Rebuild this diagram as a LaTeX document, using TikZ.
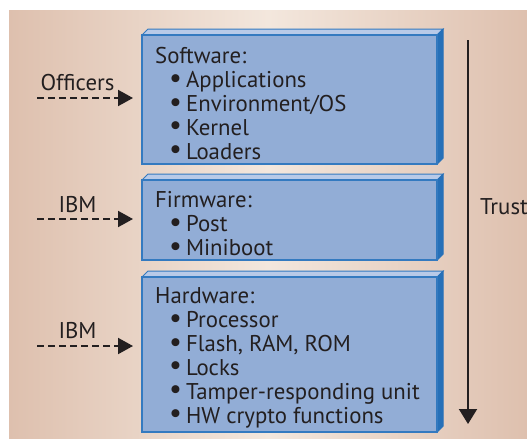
\documentclass[tikz,border=0pt]{standalone}
\usepackage{fontspec}
\setmainfont{PT Sans}
\usetikzlibrary{arrows.meta,calc}
\definecolor{bgedge}{RGB}{222,192,174}
\definecolor{bgmid}{RGB}{243,231,221}
\definecolor{frontblue}{RGB}{146,173,214}
\definecolor{topblue}{RGB}{184,202,232}
\definecolor{sideblue}{RGB}{38,112,184}
\definecolor{edgeblue}{RGB}{52,122,192}
\definecolor{ink}{RGB}{35,31,32}
\tikzset{
  frontbox/.style={draw=edgeblue, line width=1.2pt, fill=frontblue, minimum width=294pt, inner sep=0pt, anchor=north west},
  topface/.style={draw=edgeblue, line width=1pt, fill=topblue},
  sideface/.style={draw=sideblue, line width=0.8pt, fill=sideblue},
  boxtext/.style={anchor=north west, inner sep=0pt, align=left, text=ink, font=\fontsize{22.8}{23.9}\selectfont},
  lbl/.style={anchor=base, inner sep=0pt, text=ink, font=\fontsize{22.8}{24}\selectfont},
  feed/.style={draw=ink, line width=2pt, dash pattern=on 7pt off 4pt, -{Triangle[width=16pt,length=15pt]}, shorten >=9pt},
  trustline/.style={draw=ink, line width=2pt, -{Triangle[width=18pt,length=15pt]}}
}
\newcommand\slabfaces[1]{%
  \fill[topface] (#1.north west) -- ++(6,-6) -- ($(#1.north east)+(6,-6)$) -- (#1.north east) -- cycle;
  \fill[sideface] (#1.north east) -- ++(6,-6) -- ($(#1.south east)+(6,-6)$) -- (#1.south east) -- cycle;
}
\newcommand\bul{\hspace*{14pt}\raisebox{0.5pt}{\scalebox{1.25}{•}}\hspace{4pt}}
\newcommand\firstline{\rule{0pt}{20.5pt}}
\begin{document}
\begin{tikzpicture}[x=1pt,y=-1pt]
\useasboundingbox (0,0) rectangle (527,439);
\shade[left color=bgedge, right color=bgedge, middle color=bgmid] (9,10) rectangle (527,438);

% boxes
\node[frontbox, minimum height=128pt] (sw) at (142,35) {};
\node[frontbox, minimum height=79pt] (fw) at (142,180) {};
\node[frontbox, minimum height=154pt] (hw) at (142,277) {};
\slabfaces{sw}
\slabfaces{fw}
\slabfaces{hw}
\draw[draw=edgeblue, line width=1.2pt] (sw.north west) rectangle (sw.south east);
\draw[draw=edgeblue, line width=1.2pt] (fw.north west) rectangle (fw.south east);
\draw[draw=edgeblue, line width=1.2pt] (hw.north west) rectangle (hw.south east);

% box texts
\node[boxtext] (swt) at (155,43) {\firstline Software:\\
  \bul Applications\\
  \bul Environment/OS\\
  \bul Kernel\\
  \bul Loaders};
\node[boxtext] (fwt) at (155,187) {\firstline Firmware:\\
  \bul Post\\
  \bul Miniboot};
\node[boxtext] (hwt) at (155,283) {\firstline Hardware:\\
  \bul Processor\\
  \bul Flash, RAM, ROM\\
  \bul Locks\\
  \bul Tamper-responding unit\\
  \bul HW crypto functions};

% left labels and feeds
\node[lbl] (off) at (77.5,90) {Officers};
\node[lbl] (ibm1) at (77.5,212) {IBM};
\node[lbl] (ibm2) at (77.5,338) {IBM};
\coordinate (s1) at (37,98);
\coordinate (s2) at (37,219);
\coordinate (s3) at (37,346);
\draw[feed] (s1) -- (s1 -| sw.west);
\draw[feed] (s2) -- (s2 -| fw.west);
\draw[feed] (s3) -- (s3 -| hw.west);

% trust arrow
\coordinate (t0) at (468,40);
\coordinate (t1) at (468,424);
\draw[trustline] (t0) -- (t1);
\node[anchor=base west, inner sep=0pt, text=ink, font=\fontsize{22.8}{24}\selectfont] (trust) at (480,214) {Trust};
\end{tikzpicture}
\end{document}
